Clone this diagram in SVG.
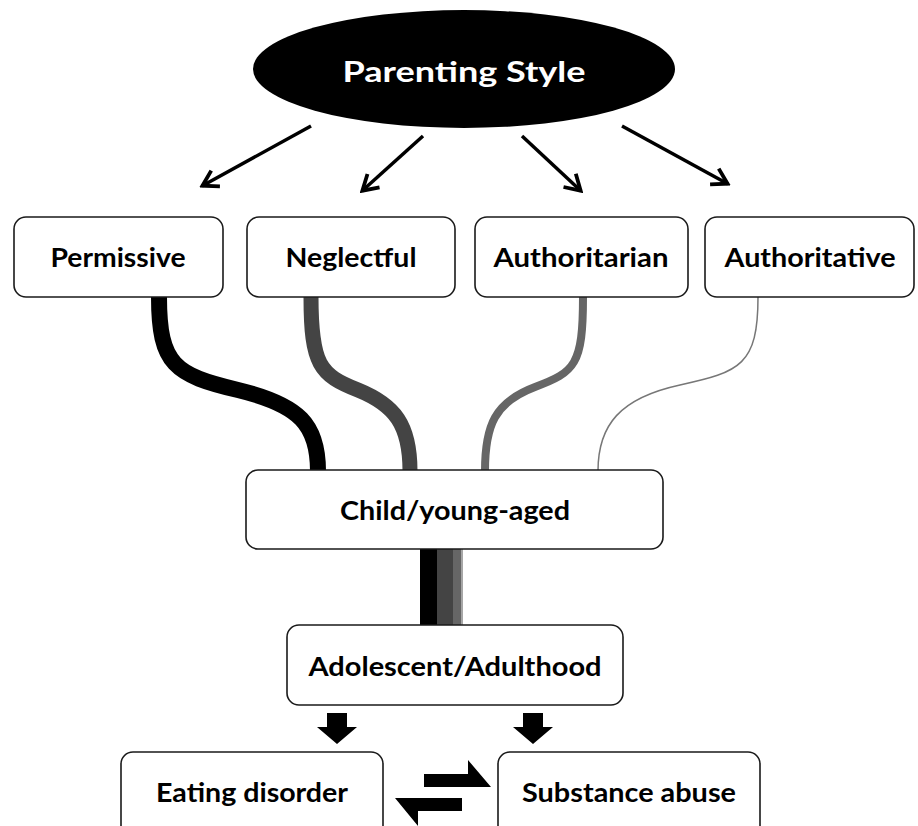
<svg xmlns="http://www.w3.org/2000/svg" width="918" height="826" viewBox="0 0 918 826">
<style>
.box{fill:#fff;stroke:#1a1a1a;stroke-width:1.6}
.lbl{font-family:Lato,"Liberation Sans",sans-serif;font-weight:700;font-size:26px;fill:#000;text-anchor:middle}
.title{font-family:Lato,"Liberation Sans",sans-serif;font-weight:700;font-size:29px;fill:#fff;text-anchor:middle}
.arr{stroke:#000;stroke-width:3.5;fill:none;marker-end:url(#vhead)}
.flow{fill:none;stroke-linecap:butt}
</style>
<defs>
<marker id="vhead" markerUnits="userSpaceOnUse" viewBox="0 0 20 22" refX="17.5" refY="11" markerWidth="20" markerHeight="22" orient="auto">
<path d="M2,2 L17,11 L2,20" fill="none" stroke="#000" stroke-width="3.8" stroke-linejoin="miter"/>
</marker>
</defs>
<rect width="918" height="826" fill="#fff"/>

<g id="connectors">
<line class="arr" x1="311" y1="126" x2="202" y2="186"/>
<line class="arr" x1="423" y1="136" x2="362" y2="191"/>
<line class="arr" x1="522" y1="136" x2="581" y2="191"/>
<line class="arr" x1="622" y1="126" x2="728" y2="184"/>
<path class="flow" d="M159,297 C159,365 175,375 238,390 C300,405 318,425 318,471" stroke="#000" stroke-width="16"/>
<path class="flow" d="M311,297 C311,365 320,375 358,390 C395,405 410,425 410,471" stroke="#444" stroke-width="15"/>
<path class="flow" d="M583,297 C583,365 575,372 535,387 C495,402 485,425 485,471" stroke="#666" stroke-width="8"/>
<path class="flow" d="M758,297 C758,365 740,372 680,385 C620,398 598,425 598,471" stroke="#777" stroke-width="1.5"/>
<rect x="420" y="548" width="17" height="78" fill="#000"/>
<rect x="437" y="548" width="16" height="78" fill="#444"/>
<rect x="453" y="548" width="8" height="78" fill="#666"/>
<line x1="462" y1="548" x2="462" y2="626" stroke="#888" stroke-width="1.5"/>
<polygon points="327,713 347,713 347,727 357,727 337,744 317,727 327,727" fill="#000"/>
<polygon points="523,713 543,713 543,727 553,727 533,744 513,727 523,727" fill="#000"/>
<polygon points="424,774 468,774 468,760 491,787 424,787" fill="#000"/>
<polygon points="462,798 395,798 418,826 418,811 462,811" fill="#000"/>
</g>

<g id="parenting-style">
<ellipse cx="464" cy="69" rx="211" ry="59" fill="#000"/>
<text class="title" x="464" y="82" textLength="243" lengthAdjust="spacingAndGlyphs">Parenting Style</text>
</g>

<g id="permissive">
<rect class="box" x="14" y="217" width="209" height="80" rx="12"/>
<text class="lbl" x="118" y="267" textLength="135" lengthAdjust="spacingAndGlyphs">Permissive</text>
</g>
<g id="neglectful">
<rect class="box" x="247" y="217" width="208" height="80" rx="12"/>
<text class="lbl" x="351" y="267" textLength="131" lengthAdjust="spacingAndGlyphs">Neglectful</text>
</g>
<g id="authoritarian">
<rect class="box" x="475" y="217" width="213" height="80" rx="12"/>
<text class="lbl" x="581" y="267" textLength="175" lengthAdjust="spacingAndGlyphs">Authoritarian</text>
</g>
<g id="authoritative">
<rect class="box" x="705" y="217" width="209" height="80" rx="12"/>
<text class="lbl" x="810" y="267" textLength="171" lengthAdjust="spacingAndGlyphs">Authoritative</text>
</g>

<g id="child">
<rect class="box" x="246" y="470" width="417" height="79" rx="12"/>
<text class="lbl" x="455" y="520" textLength="230" lengthAdjust="spacingAndGlyphs">Child/young-aged</text>
</g>

<g id="adolescent">
<rect class="box" x="287" y="625" width="336" height="80" rx="12"/>
<text class="lbl" x="455" y="676" textLength="293" lengthAdjust="spacingAndGlyphs">Adolescent/Adulthood</text>
</g>

<g id="eating-disorder">
<rect class="box" x="121" y="752" width="262" height="90" rx="12"/>
<text class="lbl" x="252" y="802" textLength="192" lengthAdjust="spacingAndGlyphs">Eating disorder</text>
</g>

<g id="substance-abuse">
<rect class="box" x="498" y="752" width="262" height="90" rx="12"/>
<text class="lbl" x="629" y="802" textLength="214" lengthAdjust="spacingAndGlyphs">Substance abuse</text>
</g>
</svg>
